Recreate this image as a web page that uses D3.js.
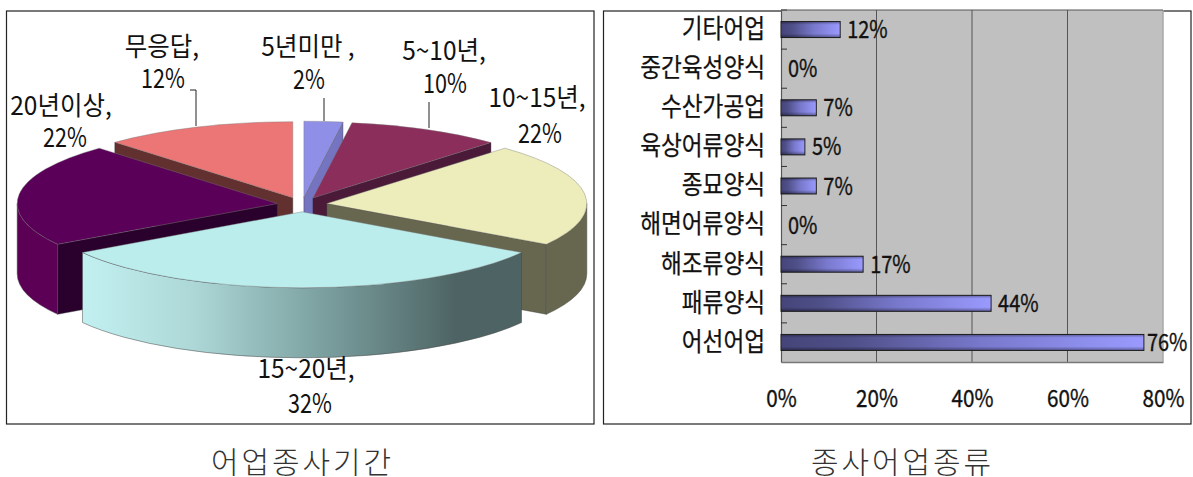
<!DOCTYPE html>
<html><head><meta charset="utf-8">
<script src="https://cdn.jsdelivr.net/npm/d3@7"></script>
<style>html,body{margin:0;background:#fff}svg{display:block}text{font-family:"Noto Sans CJK KR","Noto Sans",sans-serif;fill:#111}</style>
</head><body><svg id="c" width="1193" height="477"></svg>
<script>
// Data
const pieCategories = ["5년미만 ,","5~10년,","10~15년,","15~20년,","20년이상,","무응답,"];
const pieValues = [2.4, 9.6, 22, 32, 22, 12];
const pieTops = ["#8f8fe8","#8b2e5c","#ededbb","#bbeded","#5a0058","#ec7575"];
const pieFaces = ["#7474c0","#4a1a38","#67674f","#5e7676","#2a002c","#633030"];
const pieWalls = ["#7474c0","#6a2346","#67674f","url(#cyanWall)","#5c0056","#a85050"];
const barCategories = ["기타어업","중간육성양식","수산가공업","육상어류양식","종묘양식","해면어류양식","해조류양식","패류양식","어선어업"];
const barValues = [12.4, 0, 7.4, 5, 7.4, 0, 17.2, 44, 76];
const xTicks = [0, 20, 40, 60, 80];
const chartTitles = ["어업종사기간","종사어업종류"];

const svg = d3.select("#c");
const defs = svg.append("defs");
function grad(id, stops, vertical){
  const g = defs.append("linearGradient").attr("id", id).attr("x1",0).attr("y1",0).attr("x2",vertical?0:1).attr("y2",vertical?1:0);
  stops.forEach(s => g.append("stop").attr("offset",s[0]).attr("stop-color",s[1]).attr("stop-opacity",s[2]===undefined?1:s[2]));
}
grad("cyanWall", [[0,"#c2f0f0"],[.25,"#aed8d8"],[.55,"#7b9f9f"],[.85,"#4e6464"],[1,"#4e6464"]]);
grad("barFill", [[0,"#45457a"],[.2,"#50508a"],[.55,"#7878cc"],[1,"#9a9aff"]]);
grad("barShade", [[0,"#000",.35],[.2,"#000",0],[.75,"#000",0],[1,"#000",.4]], true);

// Frames
svg.append("rect").attr("x",6.5).attr("y",11).attr("width",587.5).attr("height",413).attr("fill","#fff").attr("stroke","#222").attr("stroke-width",1.2);
svg.append("rect").attr("x",603.5).attr("y",11).attr("width",587.5).attr("height",413).attr("fill","#fff").attr("stroke","#222").attr("stroke-width",1.2);

// Text helper: squeeze the rendered text horizontally to look condensed
function squeeze(sel, f){
  sel.each(function(){
    const n = this.getComputedTextLength();
    d3.select(this).attr("textLength", n*f).attr("lengthAdjust","spacingAndGlyphs");
  });
}

// ---------- Pie ----------
const cx = 302, cy = 204.5, rx = 260, ry = 76, depth = 70, explode = 25;
const arcs = d3.pie().sort(null).value(d=>d)(pieValues);
const pt = (a, ox, oy, d=0) => [ox + rx*Math.sin(a), oy - ry*Math.cos(a) + d];
function ell(p, sweep){ return `A${rx} ${ry} 0 0 ${sweep} ${p[0]} ${p[1]}`; }
const order = [5,0,1,4,2,3];
const pieG = svg.append("g");
order.forEach(i=>{
  const a = arcs[i], mid=(a.startAngle+a.endAngle)/2;
  const ox = cx + explode*Math.sin(mid), oy = cy - explode*(ry/rx)*Math.cos(mid);
  const s=a.startAngle, e=a.endAngle;
  const face = ang => {
    const p = pt(ang,ox,oy);
    pieG.append("path").attr("d",`M${ox} ${oy}L${p[0]} ${p[1]}L${p[0]} ${p[1]+depth}L${ox} ${oy+depth}Z`)
      .attr("fill",pieFaces[i]).attr("stroke","#333").attr("stroke-width",.4);
  };
  if (s > Math.PI) face(s);
  if (e < Math.PI) face(e);
  const ws = Math.max(s, Math.PI/2), we = Math.min(e, Math.PI*1.5);
  if (we > ws){
    const p0=pt(ws,ox,oy), p1=pt(we,ox,oy);
    pieG.append("path").attr("d",`M${p0[0]} ${p0[1]}${ell(p1,1)}L${p1[0]} ${p1[1]+depth}${ell([p0[0],p0[1]+depth],0)}Z`)
      .attr("fill",pieWalls[i]).attr("stroke","#444").attr("stroke-width",.5);
  }
  const p0=pt(s,ox,oy), p1=pt(e,ox,oy);
  pieG.append("path").attr("d",`M${ox} ${oy}L${p0[0]} ${p0[1]}${ell(p1,1)}Z`)
    .attr("fill",pieTops[i]).attr("stroke", "#777").attr("stroke-width",.4);
});

// Leader lines
const leaders = [[[190,90],[196,90],[196,126]],[[324,98],[324,121]],[[429,102],[429,128]]];
svg.append("g").selectAll("path").data(leaders).join("path")
  .attr("d",d3.line()).attr("fill","none").attr("stroke","#222").attr("stroke-width",1);

// Pie labels: [label centre x, pct centre x, first line y, second line y]
const labelPos = [[308,309,56,89],[444,445,60,93],[537,540,107,143],[306,310,378,413],[61,65,115,147],[162,163,56,88]];
const pieLabels = svg.append("g");
pieCategories.forEach((c,i)=>{
  const p = labelPos[i];
  pieLabels.append("text").attr("x",p[0]).attr("y",p[2]).attr("text-anchor","middle").attr("font-size",26).text(c).call(squeeze,.94);
  pieLabels.append("text").attr("x",p[1]).attr("y",p[3]).attr("text-anchor","middle").attr("font-size",27).text(Math.round(pieValues[i])+"%").call(squeeze,.8);
});

// ---------- Bars ----------
const x = d3.scaleLinear().domain([0,80]).range([781,1163]);
const y = d3.scaleBand().domain(barCategories).range([10,362]);
const plot = svg.append("g");
plot.append("rect").attr("x",x(0)).attr("y",10).attr("width",x(80)-x(0)).attr("height",352).attr("fill","#c0c0c0");
plot.append("line").attr("x1",x(80)).attr("x2",x(80)).attr("y1",10).attr("y2",362).attr("stroke","#a8a8a8").attr("stroke-width",1.5);

const xAxis = d3.axisBottom(x).tickValues(xTicks).tickSize(0).tickPadding(28).tickFormat(d=>d+"%");
const gx = svg.append("g").attr("transform","translate(0,362)").call(xAxis);
gx.select(".domain").attr("stroke","#777").attr("stroke-width",1.5);
gx.selectAll("text").attr("font-size",24).attr("fill","#111").style("font-family",'"Noto Sans CJK KR"')
  .style("stroke","#111").style("stroke-width",.35).call(squeeze,.86);
plot.selectAll(".grid").data(xTicks.slice(1,4)).join("line").attr("class","grid")
  .attr("x1",d=>x(d)).attr("x2",d=>x(d)).attr("y1",10).attr("y2",362).attr("stroke","#555").attr("stroke-width",1);

const yAxis = d3.axisLeft(y).tickSize(0).tickPadding(16);
const gy = svg.append("g").attr("transform",`translate(${x(0)},0)`).call(yAxis);
gy.select(".domain").attr("stroke","#555").attr("stroke-width",1.2);
gy.selectAll("text").attr("font-size",26).attr("fill","#111").style("font-family",'"Noto Sans CJK KR"')
  .style("stroke","#111").style("stroke-width",.25).call(squeeze,.87);
// boundary ticks between the bands
svg.append("g").selectAll("line").data(d3.range(0,barCategories.length)).join("line")
  .attr("x1",x(0)).attr("x2",x(0)+6).attr("y1",i=>10+i*y.step()).attr("y2",i=>10+i*y.step())
  .attr("stroke","#333").attr("stroke-width",1);
svg.append("line").attr("x1",x(0)).attr("x2",x(80)).attr("y1",10).attr("y2",10).attr("stroke","#555").attr("stroke-width",1);

const barH = 16;
const bars = barCategories.map((c,i)=>({c,v:barValues[i]}));
const by = d => y(d.c)+y.bandwidth()/2-barH/2;
const drawn = bars.filter(d=>d.v>0);
svg.append("g").selectAll("rect").data(drawn).join("rect")
  .attr("x",x(0)).attr("y",by).attr("width",d=>x(d.v)-x(0)).attr("height",barH)
  .attr("fill","url(#barFill)").attr("stroke","#222").attr("stroke-width",1);
svg.append("g").selectAll("rect").data(drawn).join("rect")
  .attr("x",x(0)).attr("y",by).attr("width",d=>x(d.v)-x(0)).attr("height",barH)
  .attr("fill","url(#barShade)");
svg.append("g").selectAll("text").data(bars).join("text")
  .attr("x",d=>x(d.v)+(x(d.v)>1100?3:7)).attr("y",d=>y(d.c)+y.bandwidth()/2+8.5).attr("font-size",24)
  .style("stroke","#111").style("stroke-width",.35)
  .text(d=>Math.round(d.v)+"%").call(squeeze,.83);

// Titles
svg.append("g").selectAll("text").data(chartTitles).join("text")
  .attr("x",(d,i)=>i?901:301).attr("y",473).attr("text-anchor","middle").attr("font-size",30)
  .style("fill","#333").style("font-weight",300).text(d=>d)
  .attr("textLength",180).attr("lengthAdjust","spacing");
</script></body></html>
